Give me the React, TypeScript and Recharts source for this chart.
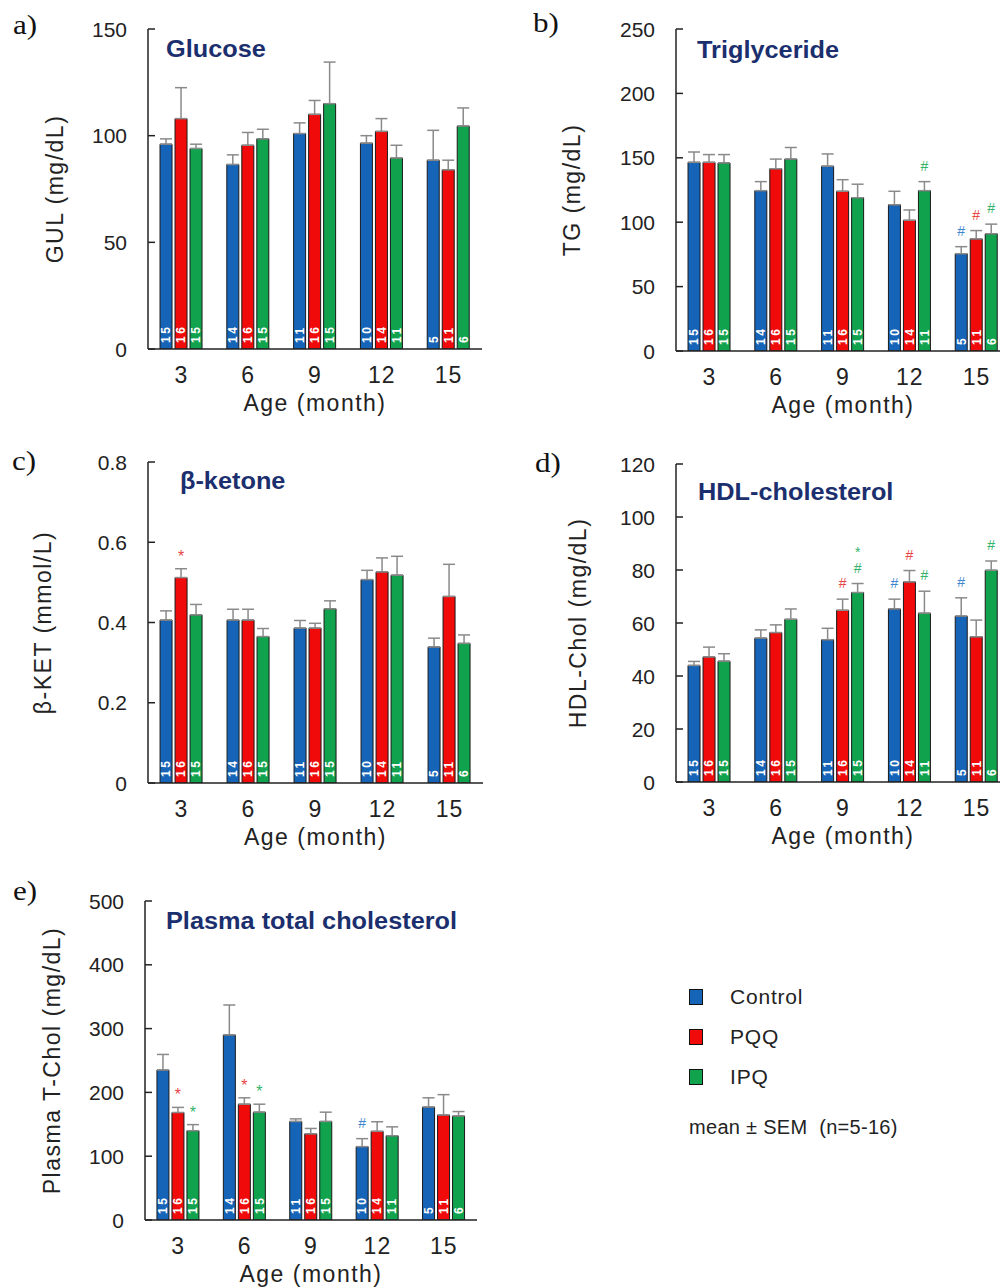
import { BarChart, Bar, XAxis, YAxis, ErrorBar, LabelList, Legend } from 'recharts';

const FONT = '"Liberation Sans", Arial, sans-serif';

const ages = ['3', '6', '9', '12', '15'];
const nControl = [15, 14, 11, 10, 5];
const nPQQ = [16, 16, 16, 14, 11];
const nIPQ = [15, 15, 15, 11, 6];

// a) glucose
const gluControl = [96, 86.5, 101, 96.5, 88.5];
const gluControlSem = [2.5, 4.5, 5, 3.5, 14];
const gluPQQ = [108, 95.5, 110, 102, 84];
const gluPQQSem = [14.5, 6, 6.5, 6, 4.5];
const gluIPQ = [94, 98.5, 115, 89.5, 104.5];
const gluIPQSem = [2, 4.5, 19.5, 6, 8.5];

// b) triglyceride
const tgControl = [146.5, 124.5, 143.5, 113.5, 75.5];
const tgControlSem = [8, 7, 9.5, 10.5, 5.5];
const tgPQQ = [146.5, 141.5, 124, 101.5, 87];
const tgPQQSem = [6, 7.5, 9, 8, 6.5];
const tgIPQ = [146, 149, 119, 124.5, 91];
const tgIPQSem = [6.5, 9, 10.5, 7, 7.5];
const tgControlMark = ['', '', '', '', '#'];
const tgPQQMark = ['', '', '', '', '#'];
const tgIPQMark = ['', '', '', '#', '#'];

// c) beta-ketone
const ketControl = [0.406, 0.406, 0.386, 0.507, 0.339];
const ketControlSem = [0.023, 0.027, 0.019, 0.023, 0.022];
const ketPQQ = [0.512, 0.406, 0.386, 0.526, 0.465];
const ketPQQSem = [0.022, 0.027, 0.012, 0.035, 0.08];
const ketIPQ = [0.419, 0.365, 0.434, 0.518, 0.348];
const ketIPQSem = [0.026, 0.02, 0.02, 0.047, 0.021];
const ketPQQMark = ['*', '', '', '', ''];

// d) HDL-cholesterol
const hdlControl = [44, 54.3, 53.7, 65.3, 62.6];
const hdlControlSem = [1.5, 3.1, 4.3, 3.7, 6.9];
const hdlPQQ = [47.2, 56.4, 64.8, 75.5, 54.8];
const hdlPQQSem = [3.7, 2.9, 4.2, 4.3, 6.3];
const hdlIPQ = [45.6, 61.4, 71.5, 63.7, 79.9];
const hdlIPQSem = [2.8, 3.9, 3.4, 8.3, 3.5];
const hdlControlMark = ['', '', '', '#', '#'];
const hdlPQQMark = ['', '', '#', '#', ''];
const hdlIPQMark = ['', '', '#*', '#', '#'];

// e) plasma total cholesterol
const tcControl = [235, 290, 154.5, 115, 177];
const tcControlSem = [24.5, 47, 4, 12.5, 14.5];
const tcPQQ = [168.5, 181.5, 135, 139, 164.5];
const tcPQQSem = [8, 10, 8.5, 15, 32];
const tcIPQ = [140, 169, 154.5, 132, 163];
const tcIPQSem = [9.5, 12.5, 14.5, 14, 7];
const tcControlMark = ['', '', '', '#', ''];
const tcPQQMark = ['*', '*', '', '', ''];
const tcIPQMark = ['*', '*', '', '', ''];

const none = ['', '', '', '', ''];

const series = [
  { key: 'c', name: 'Control', fill: '#1664b8', mark: '#3f87cc' },
  { key: 'p', name: 'PQQ', fill: '#f00a0a', mark: '#e84545' },
  { key: 'g', name: 'IPQ', fill: '#10a24d', mark: '#34b36c' },
];

function buildRows(vals: number[][], sems: number[][], marks: string[][]) {
  return ages.map((age, i) => ({
    age,
    c: vals[0][i], p: vals[1][i], g: vals[2][i],
    cErr: [0, sems[0][i]], pErr: [0, sems[1][i]], gErr: [0, sems[2][i]],
    cN: nControl[i], pN: nPQQ[i], gN: nIPQ[i],
    cM: marks[0][i], pM: marks[1][i], gM: marks[2][i],
  }));
}

const gluRows = buildRows([gluControl, gluPQQ, gluIPQ], [gluControlSem, gluPQQSem, gluIPQSem], [none, none, none]);
const tgRows = buildRows([tgControl, tgPQQ, tgIPQ], [tgControlSem, tgPQQSem, tgIPQSem], [tgControlMark, tgPQQMark, tgIPQMark]);
const ketRows = buildRows([ketControl, ketPQQ, ketIPQ], [ketControlSem, ketPQQSem, ketIPQSem], [none, ketPQQMark, none]);
const hdlRows = buildRows([hdlControl, hdlPQQ, hdlIPQ], [hdlControlSem, hdlPQQSem, hdlIPQSem], [hdlControlMark, hdlPQQMark, hdlIPQMark]);
const tcRows = buildRows([tcControl, tcPQQ, tcIPQ], [tcControlSem, tcPQQSem, tcIPQSem], [tcControlMark, tcPQQMark, tcIPQMark]);

function YTick(props: any) {
  const { x, y, payload } = props;
  const ax = x + 21;
  return (
    <g>
      <line x1={ax} x2={ax + 7} y1={y} y2={y} stroke="#222" strokeWidth={1.5} />
      <text x={x} y={y} dy="0.36em" textAnchor="end" fontSize={21} fill="#222" fontFamily={FONT}>
        {payload.value}
      </text>
    </g>
  );
}

function NLabel(props: any) {
  const { x, y, width, height, value } = props;
  const cx = x + width / 2;
  const by = y + height - 6;
  return (
    <text
      x={cx}
      y={by}
      dy="0.36em"
      transform={`rotate(-90 ${cx} ${by})`}
      fill="#fff"
      fontSize={12}
      fontWeight="bold"
      letterSpacing={2.5}
      fontFamily={FONT}
    >
      {value}
    </text>
  );
}

// significance marks, stacked upward from the top of the error bar
function markContent(rows: any[], key: string, color: string) {
  return (props: any) => {
    const { x, y, width, height, index } = props;
    const row = rows[index];
    const text: string = row[key + 'M'];
    if (!text) return null;
    const val = row[key];
    const err = row[key + 'Err'][1];
    const errTop = y - (height / val) * err;
    const cx = x + width / 2;
    return (
      <g>
        {text.split('').map((ch, k) => {
          const base = k === 0 ? (ch === '*' ? 7 : 11) : 11 + k * 16;
          return (
            <text
              key={k}
              x={cx}
              y={errTop - base}
              textAnchor="middle"
              fill={color}
              fontSize={ch === '*' && k === 0 ? 16 : 14}
              fontFamily={FONT}
            >
              {ch}
            </text>
          );
        })}
      </g>
    );
  };
}

function LegendBox() {
  return (
    <div style={{ fontFamily: FONT, color: '#222' }}>
      {series.map(s => (
        <div key={s.key} style={{ display: 'flex', alignItems: 'center', height: 40 }}>
          <span
            style={{
              display: 'inline-block', width: 14, height: 16, background: s.fill,
              border: '1px solid #111', boxSizing: 'border-box',
            }}
          />
          <span style={{ marginLeft: 27, fontSize: 21, letterSpacing: 0.8 }}>{s.name}</span>
        </div>
      ))}
      <div style={{ fontSize: 20, marginTop: 19, whiteSpace: 'pre', letterSpacing: 0.3 }}>
        {'mean \u00b1 SEM  (n=5-16)'}
      </div>
    </div>
  );
}

interface PanelProps {
  rows: any[];
  width: number;
  height: number;
  yAxisWidth: number;
  xAxisHeight: number;
  marginRight: number;
  domain: [number, number];
  ticks: number[];
  yLabel: string;
  yLabelOffset: number;
  legend?: boolean;
}

function Panel(p: PanelProps) {
  return (
    <BarChart
      width={p.width}
      height={p.height}
      data={p.rows}
      margin={{ top: 29, right: p.marginRight, left: 0, bottom: 0 }}
      barCategoryGap="18%"
      barGap={3}
    >
      <XAxis
        dataKey="age"
        height={p.xAxisHeight}
        interval={0}
        tickLine={false}
        tickSize={0}
        tickMargin={18}
        axisLine={{ stroke: '#222', strokeWidth: 1.5 }}
        tick={{ fontSize: 23, fill: '#222', fontFamily: FONT, letterSpacing: 1 }}
        label={{
          value: 'Age (month)', position: 'insideBottom', offset: p.xAxisHeight - 62,
          fontSize: 23, fill: '#222', fontFamily: FONT, letterSpacing: 1.5,
        }}
      />
      <YAxis
        type="number"
        width={p.yAxisWidth}
        domain={p.domain}
        ticks={p.ticks}
        allowDataOverflow
        tickLine={false}
        tickSize={0}
        tickMargin={21}
        axisLine={{ stroke: '#222', strokeWidth: 1.5 }}
        tick={(props: any) => <YTick {...props} />}
        label={{
          value: p.yLabel, angle: -90, position: 'insideLeft', offset: p.yLabelOffset,
          style: { textAnchor: 'middle' }, fontSize: 23, fill: '#222', fontFamily: FONT, letterSpacing: 1.5,
        }}
      />
      {series.map(s => (
        <Bar
          key={s.key}
          dataKey={s.key}
          name={s.name}
          fill={s.fill}
          stroke="#1a1a1a"
          strokeWidth={1}
          isAnimationActive={false}
        >
          <ErrorBar dataKey={s.key + 'Err'} direction="y" width={6} stroke="#8a8a8a" strokeWidth={1.5} isAnimationActive={false} />
          <LabelList dataKey={s.key + 'N'} content={NLabel} />
          <LabelList dataKey={s.key + 'M'} content={markContent(p.rows, s.key, s.mark)} />
        </Bar>
      ))}
      {p.legend && (
        <Legend
          layout="vertical"
          align="center"
          verticalAlign="middle"
          wrapperStyle={{ left: 689, top: 105, width: 300 }}
          content={LegendBox}
        />
      )}
    </BarChart>
  );
}

const letterStyle = (left: number, top: number): React.CSSProperties => ({
  position: 'absolute', left, top, fontSize: 27, lineHeight: 1, color: '#111',
  fontFamily: '"Liberation Serif", "Times New Roman", serif',
  transform: 'scaleX(1.15)', transformOrigin: 'left top',
});

const titleStyle = (left: number, cy: number): React.CSSProperties => ({
  position: 'absolute', left, top: cy - 11.5, fontSize: 23, lineHeight: 1, fontWeight: 'bold',
  color: '#1b2f6e', fontFamily: FONT, whiteSpace: 'nowrap',
  transform: 'scaleX(1.1)', transformOrigin: 'left center',
});

export default function App() {
  return (
    <div style={{ position: 'absolute', left: 0, top: 0, width: 1000, height: 1287, overflow: 'hidden', background: '#fff' }}>
      <div style={{ position: 'absolute', left: 0, top: 0 }}>
        <Panel rows={gluRows} width={500} height={430} yAxisWidth={148} xAxisHeight={81} marginRight={18}
          domain={[0, 150]} ticks={[0, 50, 100, 150]} yLabel="GUL  (mg/dL)" yLabelOffset={55} />
      </div>
      <div style={{ position: 'absolute', left: 528, top: 0 }}>
        <Panel rows={tgRows} width={500} height={430} yAxisWidth={148} xAxisHeight={79} marginRight={18}
          domain={[0, 250]} ticks={[0, 50, 100, 150, 200, 250]} yLabel="TG (mg/dL)" yLabelOffset={44} />
      </div>
      <div style={{ position: 'absolute', left: 0, top: 433 }}>
        <Panel rows={ketRows} width={500} height={430} yAxisWidth={148} xAxisHeight={80} marginRight={17}
          domain={[0, 0.8]} ticks={[0, 0.2, 0.4, 0.6, 0.8]} yLabel="β-KET (mmol/L)" yLabelOffset={43} />
      </div>
      <div style={{ position: 'absolute', left: 528, top: 435 }}>
        <Panel rows={hdlRows} width={500} height={430} yAxisWidth={148} xAxisHeight={83} marginRight={18}
          domain={[0, 120]} ticks={[0, 20, 40, 60, 80, 100, 120]} yLabel="HDL-Chol  (mg/dL)" yLabelOffset={50} />
      </div>
      <div style={{ position: 'absolute', left: 0, top: 872 }}>
        <Panel rows={tcRows} width={1000} height={415} yAxisWidth={145} xAxisHeight={67} marginRight={523}
          domain={[0, 500]} ticks={[0, 100, 200, 300, 400, 500]} yLabel="Plasma  T-Chol  (mg/dL)" yLabelOffset={52} legend />
      </div>

      <div style={letterStyle(13, 12)}>a)</div>
      <div style={letterStyle(533, 10)}>b)</div>
      <div style={letterStyle(12, 448)}>c)</div>
      <div style={letterStyle(535, 450)}>d)</div>
      <div style={letterStyle(13, 878)}>e)</div>

      <div style={titleStyle(166, 49)}>Glucose</div>
      <div style={titleStyle(697, 50)}>Triglyceride</div>
      <div style={titleStyle(180, 481)}>β-ketone</div>
      <div style={titleStyle(698, 492)}>HDL-cholesterol</div>
      <div style={titleStyle(166, 921)}>Plasma total cholesterol</div>
    </div>
  );
}
